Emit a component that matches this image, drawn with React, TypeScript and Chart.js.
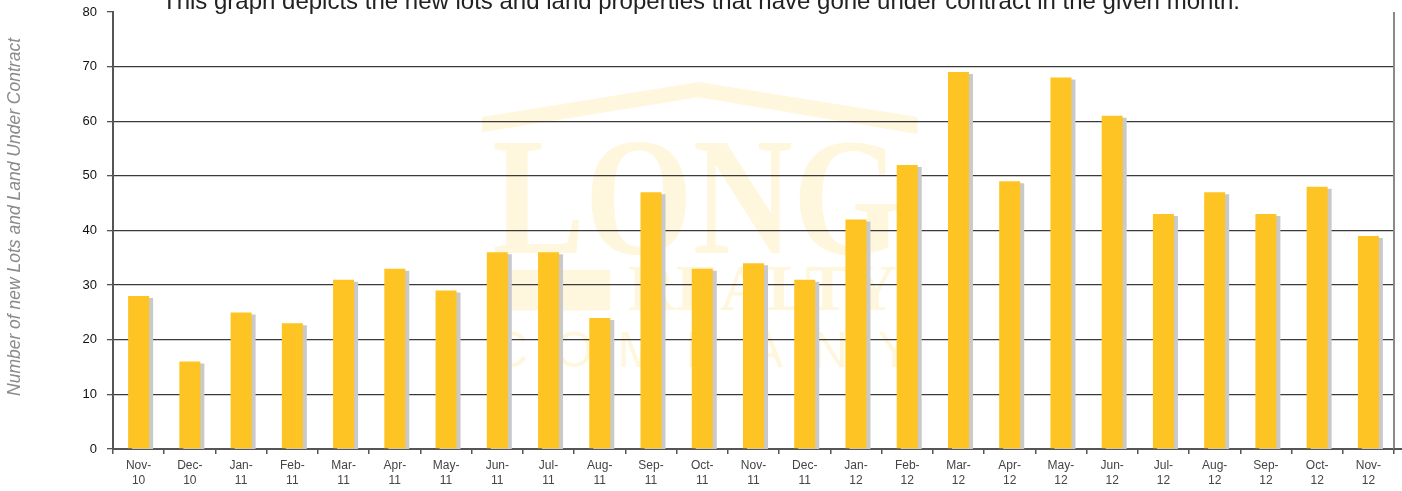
import { useEffect, useRef } from 'react';
import { Chart, registerables } from 'chart.js';

Chart.register(...registerables);

const monthNames = ['Nov', 'Dec', 'Jan', 'Feb', 'Mar', 'Apr', 'May', 'Jun', 'Jul', 'Aug', 'Sep', 'Oct', 'Nov', 'Dec', 'Jan', 'Feb', 'Mar', 'Apr', 'May', 'Jun', 'Jul', 'Aug', 'Sep', 'Oct', 'Nov'];
const yearNames = ['10', '10', '11', '11', '11', '11', '11', '11', '11', '11', '11', '11', '11', '11', '12', '12', '12', '12', '12', '12', '12', '12', '12', '12', '12'];
const lotsUnderContract = [28, 16, 25, 23, 31, 33, 29, 36, 36, 24, 47, 33, 34, 31, 42, 52, 69, 49, 68, 61, 43, 47, 43, 48, 39];
const yMin = 0;
const yMax = 80;
const yStep = 10;
const chartTitle = 'This graph depicts the new lots and land properties that have gone under contract in the given month.';
const yAxisTitle = 'Number of new Lots and Land Under Contract';

const FONT = "'Liberation Sans', Arial, sans-serif";
const BAR = '#fdc424';
const SHADOW = '#c9c9c9';
const WM = 'rgba(252,196,36,0.15)';

const shadowPlugin = {
  id: 'barShadow',
  beforeDatasetDraw(chart: any) {
    const ctx = chart.ctx;
    ctx.save();
    ctx.shadowColor = SHADOW;
    ctx.shadowOffsetX = 4;
    ctx.shadowOffsetY = 2;
    ctx.shadowBlur = 0;
  },
  afterDatasetDraw(chart: any) {
    chart.ctx.restore();
  },
};

const watermarkPlugin = {
  id: 'watermark',
  beforeDraw(chart: any) {
    const { ctx, chartArea: a } = chart;
    const w = a.right - a.left;
    const h = a.bottom - a.top;
    const X = (f: number) => a.left + f * w;
    const Y = (f: number) => a.top + f * h;
    ctx.save();
    ctx.fillStyle = WM;
    // roof
    ctx.beginPath();
    ctx.moveTo(X(0.288), Y(0.240));
    ctx.lineTo(X(0.457), Y(0.160));
    ctx.lineTo(X(0.628), Y(0.240));
    ctx.lineTo(X(0.628), Y(0.279));
    ctx.lineTo(X(0.457), Y(0.195));
    ctx.lineTo(X(0.288), Y(0.275));
    ctx.closePath();
    ctx.fill();
    // LONG
    ctx.font = "bold 168px 'Liberation Serif', serif";
    ctx.textBaseline = 'alphabetic';
    ctx.textAlign = 'left';
    ctx.fillText('LONG', X(0.296), Y(0.552), X(0.615) - X(0.296));
    // L foot
    ctx.fillRect(X(0.310), Y(0.590), X(0.388) - X(0.310), Y(0.683) - Y(0.590));
    // REALTY
    ctx.font = "bold 66px 'Liberation Serif', serif";
    ctx.fillText('REALTY', X(0.402), Y(0.683), X(0.612) - X(0.402));
    // COMPANY
    ctx.font = "50px 'Liberation Sans', sans-serif";
    const letters = 'COMPANY'.split('');
    const x0 = X(0.310);
    const x1 = X(0.610);
    letters.forEach((c, i) => {
      ctx.textAlign = 'center';
      ctx.fillText(c, x0 + ((x1 - x0) * i) / (letters.length - 1), Y(0.812));
    });
    ctx.restore();
  },
};

const decorPlugin = {
  id: 'decor',
  afterDraw(chart: any) {
    const { ctx, chartArea: a } = chart;
    ctx.save();
    // right border
    ctx.strokeStyle = '#8a8a8a';
    ctx.lineWidth = 2;
    ctx.beginPath();
    ctx.moveTo(a.right, a.top);
    ctx.lineTo(a.right, a.bottom);
    ctx.stroke();
    // x axis line continues to the canvas edge
    ctx.strokeStyle = '#555';
    ctx.beginPath();
    ctx.moveTo(a.right, a.bottom);
    ctx.lineTo(chart.width, a.bottom);
    ctx.stroke();
    // title
    ctx.fillStyle = '#222';
    ctx.font = `24px ${FONT}`;
    ctx.textAlign = 'center';
    ctx.textBaseline = 'alphabetic';
    ctx.fillText(chartTitle, chart.width / 2, 9);
    // y axis title
    ctx.translate(15, 217);
    ctx.rotate(-Math.PI / 2);
    ctx.fillStyle = '#8a8a8a';
    ctx.font = `italic 17.5px ${FONT}`;
    ctx.textBaseline = 'middle';
    ctx.fillText(yAxisTitle, 0, 0);
    ctx.restore();
  },
};

export default function App() {
  const ref = useRef<HTMLCanvasElement | null>(null);

  useEffect(() => {
    document.body.style.margin = '0';
    if (!ref.current) return;
    const labels = monthNames.map((m, i) => [`${m}-`, yearNames[i]]);
    const chart = new Chart(ref.current, {
      type: 'bar',
      data: {
        labels,
        datasets: [
          {
            data: lotsUnderContract,
            backgroundColor: BAR,
            borderWidth: 0,
            categoryPercentage: 1,
            barPercentage: 0.41,
          },
        ],
      },
      options: {
        animation: false,
        responsive: true,
        maintainAspectRatio: false,
        layout: { padding: { top: 12, right: 8, left: 0, bottom: 0 } },
        plugins: {
          legend: { display: false },
          tooltip: { enabled: false },
          title: { display: false },
        },
        scales: {
          x: {
            offset: true,
            grid: {
              drawOnChartArea: false,
              drawTicks: true,
              tickLength: 5,
              tickColor: '#555',
              lineWidth: 1.5,
            },
            border: { color: '#555', width: 2 },
            ticks: {
              color: '#444',
              font: { family: FONT, size: 12, lineHeight: 1.25 },
              padding: 4,
              maxRotation: 0,
              autoSkip: false,
            },
            afterFit: (s: any) => {
              s.height = 42;
              s.paddingLeft = 0;
              s.paddingRight = 0;
            },
          },
          y: {
            min: yMin,
            max: yMax,
            ticks: {
              stepSize: yStep,
              color: '#111',
              font: { family: FONT, size: 13 },
              padding: 10,
            },
            grid: {
              color: (c: any) => (c.tick && (c.tick.value === yMax || c.tick.value === yMin) ? 'rgba(0,0,0,0)' : '#3a3a3a'),
              tickColor: '#555',
              tickLength: 6,
              lineWidth: 1.3,
            },
            border: { color: '#555', width: 2 },
            afterFit: (s: any) => {
              s.width = 113;
              s.paddingTop = 0;
              s.paddingBottom = 0;
            },
          },
        },
      },
      plugins: [watermarkPlugin, shadowPlugin, decorPlugin],
    });
    return () => chart.destroy();
  }, []);

  return (
    <div style={{ width: 1402, height: 491, position: 'relative' }}>
      <canvas ref={ref} />
    </div>
  );
}
